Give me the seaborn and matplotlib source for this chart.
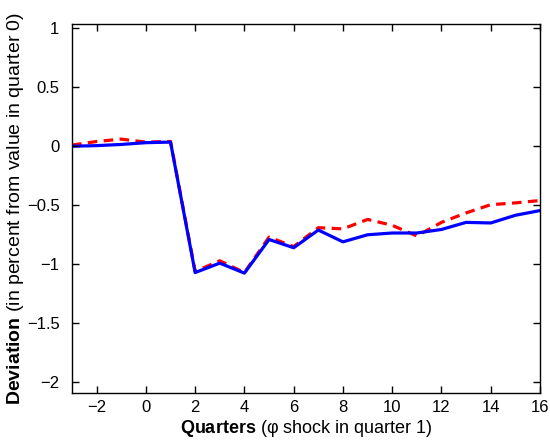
import numpy as np
import pandas as pd
import matplotlib
matplotlib.use("Agg")
import matplotlib.pyplot as plt
import seaborn as sns

sns.set_style("ticks", {'xtick.direction': 'in', 'ytick.direction': 'in'})
plt.rcParams['font.family'] = ['Liberation Sans', 'DejaVu Sans']
plt.rcParams['mathtext.fontset'] = 'custom'
plt.rcParams['mathtext.rm'] = 'Liberation Sans'
plt.rcParams['mathtext.bf'] = 'Liberation Sans:bold'
plt.rcParams['text.color'] = 'black'
plt.rcParams['axes.labelcolor'] = 'black'
plt.rcParams['axes.axisbelow'] = False

# quarters and deviations
quarters = list(range(-3, 17))
dev_solid = [0.0, 0.005, 0.015, 0.03, 0.035, -1.07, -0.99, -1.075, -0.79, -0.86,
             -0.71, -0.81, -0.75, -0.735, -0.735, -0.705, -0.645, -0.65, -0.585, -0.545]
dev_dashed = [0.01, 0.04, 0.06, 0.035, 0.04, -1.06, -0.97, -1.07, -0.77, -0.85,
              -0.69, -0.70, -0.62, -0.67, -0.76, -0.645, -0.565, -0.495, -0.48, -0.46]

df = pd.DataFrame({'quarter': quarters, 'solid': dev_solid, 'dashed': dev_dashed})

fig = plt.figure(figsize=(5.5, 4.44), dpi=100)
ax = fig.add_axes([0.1309, 0.1149, 0.8509, 0.8310])

sns.lineplot(data=df, x='quarter', y='dashed', ax=ax, color='#ff0000', lw=2.3,
             linestyle=(0, (3.0, 2.0)))
sns.lineplot(data=df, x='quarter', y='solid', ax=ax, color='#0000ff', lw=2.3)

ax.set_xlim(-3, 16)
ax.set_ylim(-2.09, 1.035)
ax.set_xticks(range(-2, 17, 2))
ax.set_yticks([-2, -1.5, -1, -0.5, 0, 0.5, 1])
ax.set_yticklabels(['\u22122', '\u22121.5', '\u22121', '\u22120.5', '0', '0.5', '1'])
ax.set_xticklabels(['\u22122'] + [str(v) for v in range(0, 17, 2)])
ax.xaxis.set_tick_params(which='major', direction='in', length=5, width=1.0,
                         bottom=True, top=True, color='black', pad=5,
                         labelsize=12, labelcolor='black')
ax.yaxis.set_tick_params(which='major', direction='in', length=5, width=1.0,
                         left=True, right=True, color='black', pad=9,
                         labelsize=12, labelcolor='black')
for s in ax.spines.values():
    s.set_visible(True)
    s.set_color('black')
    s.set_linewidth(1.0)

ax.set_xlabel('$\\mathbf{Quarters}$ (\u03c6 shock in quarter 1)', fontsize=13, labelpad=2)
ax.set_ylabel(r'$\mathbf{Deviation}$ (in percent from value in quarter 0)', fontsize=14)
ax.yaxis.set_label_coords(-0.098, 0.5)

plt.savefig('out.png', dpi=100)
